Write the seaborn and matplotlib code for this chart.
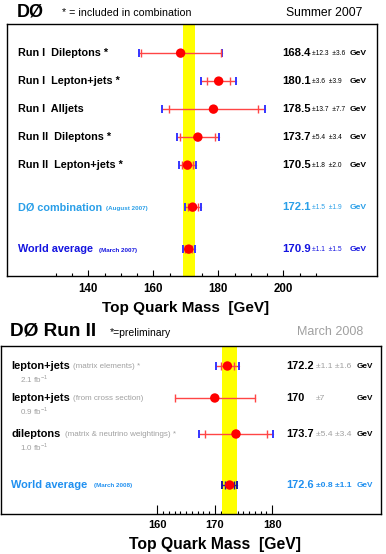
import numpy as np
import pandas as pd
import seaborn as sns
import matplotlib.pyplot as plt
from matplotlib.transforms import blended_transform_factory

# ---- data: top panel (Summer 2007) ----
top_labels = ["Run I  Dileptons *", "Run I  Lepton+jets *", "Run I  Alljets",
              "Run II  Dileptons *", "Run II  Lepton+jets *",
              "DØ combination", "World average"]
top_notes = ["", "", "", "", "", "(August 2007)", "(March 2007)"]
top_mass = [168.4, 180.1, 178.5, 173.7, 170.5, 172.1, 170.9]
top_stat = [12.3, 3.6, 13.7, 5.4, 1.8, 1.5, 1.1]
top_syst = [3.6, 3.9, 7.7, 3.4, 2.0, 1.9, 1.5]
top_rows = [0, 1, 2, 3, 4, 5.5, 7]
top_colors = ["black"] * 5 + ["#2a9fe8", "#1414e0"]

# ---- data: bottom panel (March 2008) ----
bot_labels = ["lepton+jets", "lepton+jets", "dileptons", "World average"]
bot_notes = ["(matrix elements) *", "(from cross section)",
             "(matrix & neutrino weightings) *", "(March 2008)"]
bot_lumi = ["2.1 fb$^{-1}$", "0.9 fb$^{-1}$", "1.0 fb$^{-1}$", ""]
bot_mass = [172.2, 170.0, 173.7, 172.6]
bot_stat = [1.1, 7.0, 5.4, 0.8]
bot_syst = [1.6, 0.0, 3.4, 1.1]
bot_rows = [0, 1, 2.125, 3.72]
bot_colors = ["black", "black", "black", "#2090f0"]

sns.set_theme(style="white", rc={"text.color": "black",
                                 "xtick.color": "black",
                                 "axes.labelcolor": "black"})
plt.rcParams['font.family'] = ['Liberation Sans', 'DejaVu Sans']
plt.rcParams['mathtext.fontset'] = 'custom'
plt.rcParams['mathtext.rm'] = 'Liberation Sans'

W, H = 386, 554
fig = plt.figure(figsize=(W / 100, H / 100), dpi=100)


def px(x):
    return x / W


def draw_bars(ax, mass, stat, syst, rows, line_col, total_col, stat_col):
    total = np.sqrt(np.array(stat) ** 2 + np.array(syst) ** 2)
    for m, s, t, r in zip(mass, stat, total, rows):
        ax.plot([m - t, m + t], [r, r], color=line_col, lw=1, zorder=2)
        if t > s + 1e-9:
            ax.errorbar(m, r, xerr=t, fmt='none', ecolor=total_col,
                        elinewidth=0, capsize=2.8, capthick=1.4, zorder=3)
        ax.errorbar(m, r, xerr=s, fmt='none', ecolor=stat_col,
                    elinewidth=0, capsize=2.8, capthick=1.0, zorder=3)
    df = pd.DataFrame({"mass": mass, "row": rows})
    sns.scatterplot(data=df, x="mass", y="row", ax=ax, color="#ff0000",
                    s=46, edgecolor="none", zorder=5, legend=False)


# ================= top panel =================
ax1 = fig.add_axes([px(7.3), 1 - 276 / H, px(376.7 - 7.3), 252 / H])
ax1.set_xlim(115.1, 228.7)
ax1.set_ylim(7.96, -1.04)
wa = top_mass[-1]
wa_err = np.hypot(top_stat[-1], top_syst[-1])
ax1.axvspan(wa - wa_err, wa + wa_err, color="#ffff00", lw=0, zorder=1)
draw_bars(ax1, top_mass, top_stat, top_syst, top_rows,
          "#ff4545", "#3535ff", "#ff4545")

ax1.set_xticks([140, 160, 180, 200])
ax1.set_xticks(np.arange(130, 215, 5), minor=True)
ax1.set_yticks([])
ax1.tick_params(axis='x', which='major', direction='in', length=4.5,
                width=0.8, color='black', labelcolor='black', labelsize=8.3,
                pad=5, bottom=True)
ax1.tick_params(axis='x', which='minor', direction='in', length=2.5,
                width=0.8, color='black', bottom=True)
for lab in ax1.get_xticklabels():
    lab.set_fontweight('bold')
ax1.set_xlabel("")
ax1.set_ylabel("")
for sp in ax1.spines.values():
    sp.set_color("black")
    sp.set_linewidth(1.0)

tr1 = blended_transform_factory(fig.transFigure, ax1.transData)
for lab, note, m, s, sy, r, c in zip(top_labels, top_notes, top_mass, top_stat,
                                     top_syst, top_rows, top_colors):
    ax1.text(px(18), r, lab, transform=tr1, fontsize=7.8, fontweight='bold',
             color=c, va='center', ha='left')
    if note:
        ax1.text(px(106 if r < 6 else 99), r + 0.05, note, transform=tr1,
                 fontsize=4.5, fontweight='bold', color=c, va='center')
    ax1.text(px(282), r, f"{m:.1f}", transform=tr1, fontsize=8.2,
             fontweight='bold', color=c, va='center')
    ax1.text(px(312), r + 0.03, f"±{s:.1f}  ±{sy:.1f}", transform=tr1,
             fontsize=4.8, color=c, va='center')
    ax1.text(px(350), r, "GeV", transform=tr1, fontsize=6.1,
             fontweight='bold', color=c, va='center')

xl1 = blended_transform_factory(ax1.transData, fig.transFigure)
fig.text(170, 1 - 308 / H, "Top Quark Mass  [GeV]", transform=xl1,
         fontsize=11, fontweight='bold', ha='center', va='center')

fig.text(px(17), 1 - 12 / H, "DØ", fontsize=13, fontweight='bold',
         ha='left', va='center')
fig.text(px(62), 1 - 13 / H, "* = included in combination", fontsize=7.7,
         ha='left', va='center')
fig.text(px(362), 1 - 13 / H, "Summer 2007", fontsize=8.7,
         ha='right', va='center')

# ================= bottom panel =================
ax2 = fig.add_axes([px(1), 1 - 514 / H, px(380), 168 / H])
ax2.set_xlim(132.7, 199.0)
ax2.set_ylim(4.625, -0.625)
wa2 = bot_mass[-1]
wa2_err = np.hypot(bot_stat[-1], bot_syst[-1])
ax2.axvspan(wa2 - wa2_err, wa2 + wa2_err, color="#ffff00", lw=0, zorder=1)
draw_bars(ax2, bot_mass[:3], bot_stat[:3], bot_syst[:3], bot_rows[:3],
          "#ff4545", "#3535ff", "#ff4545")
draw_bars(ax2, bot_mass[3:], bot_stat[3:], bot_syst[3:], bot_rows[3:],
          "#2020a0", "#1818a0", "#1818a0")

ax2.set_xticks([160, 170, 180])
ax2.set_xticks(np.arange(161, 180, 1), minor=True)
ax2.set_yticks([])
ax2.tick_params(axis='x', which='major', direction='in', length=6.2,
                width=0.8, color='black', labelcolor='black', labelsize=8,
                pad=4, bottom=True)
ax2.tick_params(axis='x', which='minor', direction='in', length=2.2,
                width=0.8, color='black', bottom=True)
for lab in ax2.get_xticklabels():
    lab.set_fontweight('bold')
ax2.set_xlabel("")
ax2.set_ylabel("")
for sp in ax2.spines.values():
    sp.set_color("black")
    sp.set_linewidth(1.0)

tr2 = blended_transform_factory(fig.transFigure, ax2.transData)
for i, (lab, note, lumi, m, s, sy, r, c) in enumerate(zip(
        bot_labels, bot_notes, bot_lumi, bot_mass, bot_stat, bot_syst,
        bot_rows, bot_colors)):
    ax2.text(px(11), r, lab, transform=tr2, fontsize=7.9,
             fontweight='bold', color=c, va='center', ha='left')
    is_avg = i == 3
    note_x = [73, 73, 65, 94][i]
    ax2.text(px(note_x), r + 0.03, note, transform=tr2,
             fontsize=4.5 if is_avg else 5.8,
             fontweight='bold' if is_avg else 'normal',
             color=c if is_avg else "#a0a0a0", va='center')
    if lumi:
        ax2.text(px(20), r + 0.41, lumi, transform=tr2, fontsize=5.8,
                 color="#a0a0a0", va='center')
    val = f"{m:.1f}" if sy > 0 else f"{m:.0f}"
    ax2.text(px(286), r, val, transform=tr2, fontsize=7.9,
             fontweight='bold', color=c, va='center')
    err = f"±{s:.1f} ±{sy:.1f}" if sy > 0 else f"±{s:.0f}"
    ax2.text(px(316), r + 0.02, err, transform=tr2, fontsize=6.1,
             fontweight='bold' if is_avg else 'normal',
             color=c if is_avg else "#a0a0a0", va='center')
    ax2.text(px(357), r, "GeV", transform=tr2, fontsize=5.9,
             fontweight='bold', color=c, va='center')

xl2 = blended_transform_factory(ax2.transData, fig.transFigure)
fig.text(170, 1 - 544 / H, "Top Quark Mass  [GeV]", transform=xl2,
         fontsize=11.3, fontweight='bold', ha='center', va='center')

fig.text(px(10), 1 - 331 / H, "DØ Run II", fontsize=13.7, fontweight='bold',
         ha='left', va='center')
fig.text(px(110), 1 - 333 / H, "*=preliminary", fontsize=7.5,
         ha='left', va='center')
fig.text(px(363), 1 - 332 / H, "March 2008", fontsize=9, color="#a0a0a0",
         ha='right', va='center')

fig.savefig("out.png", dpi=100)
